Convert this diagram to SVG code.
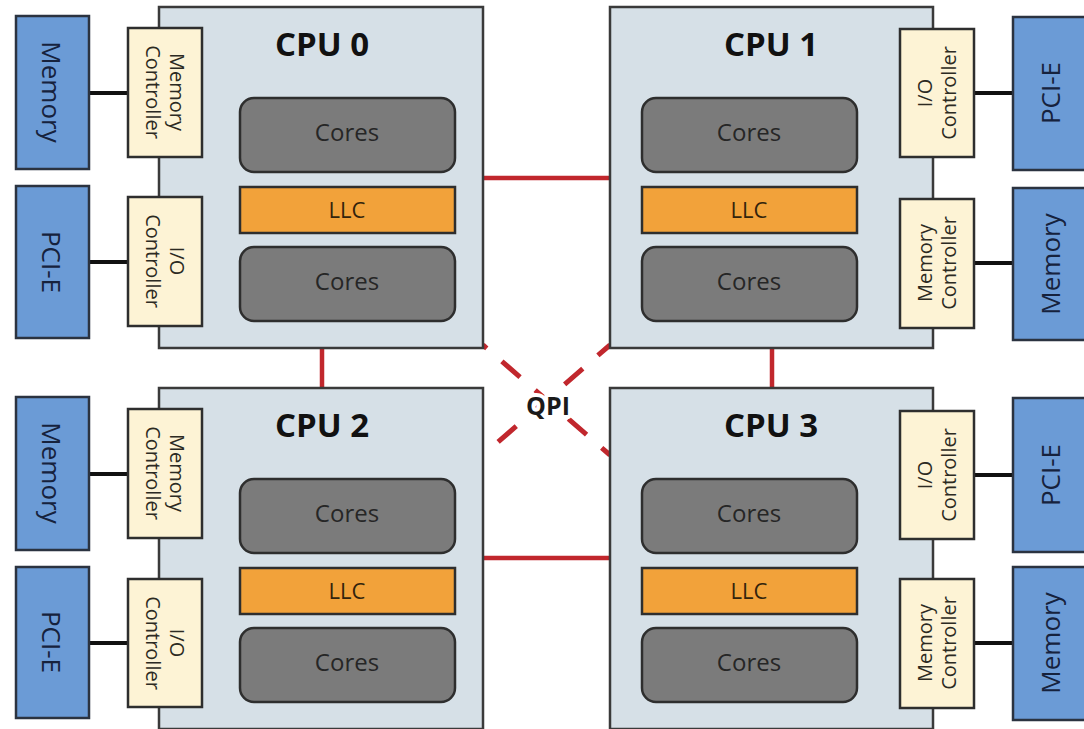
<svg xmlns="http://www.w3.org/2000/svg" width="1084" height="729" viewBox="0 0 1084 729">
<style>
  .cpu{fill:#d6e0e7;stroke:#3a3a3a;stroke-width:2.5}
  .core{fill:#7b7b7b;stroke:#2e2e2e;stroke-width:2.5}
  .llc{fill:#f2a23a;stroke:#2e2e2e;stroke-width:2.5}
  .ctrl{fill:#fdf3d5;stroke:#2e2e2e;stroke-width:2.5}
  .dev{fill:#6b9bd6;stroke:#2b3340;stroke-width:2.5}
  .title{font-family:"Open Sans","DejaVu Sans",sans-serif;font-weight:700;font-size:33px;fill:#111;text-anchor:middle}
  .lbl{font-family:"Open Sans","DejaVu Sans",sans-serif;font-size:24px;fill:#262626;text-anchor:middle}
  .llct{font-family:"Open Sans","DejaVu Sans",sans-serif;font-size:22px;fill:#33240c;text-anchor:middle}
  .ct{font-family:"Open Sans","DejaVu Sans",sans-serif;font-size:20px;fill:#2c2a22;text-anchor:middle}
  .dt{font-family:"Open Sans","DejaVu Sans",sans-serif;font-size:26px;fill:#16223d;text-anchor:middle}
  .qpi{stroke:#c1272d;stroke-width:4.5;fill:none}
  .dash{stroke:#c1272d;stroke-width:5;fill:none;stroke-dasharray:24 20}
  .bus{stroke:#111;stroke-width:4;fill:none}
  .qpit{font-family:"Open Sans","DejaVu Sans",sans-serif;font-weight:700;font-size:25px;fill:#1a1a1a;text-anchor:middle;stroke:#fff;stroke-width:8;paint-order:stroke;stroke-linejoin:round}
</style>

<g id="connectors">
  <line class="dash" x1="483" y1="345" x2="610" y2="455" stroke-dashoffset="19"/>
  <line class="dash" x1="610" y1="345" x2="483" y2="455" stroke-dashoffset="8"/>
  <line class="qpi" x1="483" y1="178" x2="610" y2="178"/>
  <line class="qpi" x1="483" y1="558" x2="610" y2="558"/>
  <line class="qpi" x1="322" y1="348" x2="322" y2="388"/>
  <line class="qpi" x1="772" y1="348" x2="772" y2="388"/>
  <text class="qpit" x="548" y="415">QPI</text>
  <line class="bus" x1="89" y1="93" x2="128" y2="93"/>
  <line class="bus" x1="89" y1="262" x2="128" y2="262"/>
  <line class="bus" x1="89" y1="474" x2="128" y2="474"/>
  <line class="bus" x1="89" y1="643" x2="128" y2="643"/>
  <line class="bus" x1="974" y1="93" x2="1013" y2="93"/>
  <line class="bus" x1="974" y1="263" x2="1013" y2="263"/>
  <line class="bus" x1="974" y1="475" x2="1013" y2="475"/>
  <line class="bus" x1="974" y1="643" x2="1013" y2="643"/>
</g>

<g id="cpu0">
  <rect class="cpu" x="159" y="7" width="324" height="341"/>
  <text class="title" x="322" y="56">CPU 0</text>
  <rect class="core" x="240" y="98" width="215" height="74" rx="14"/>
  <text class="lbl" x="347" y="141">Cores</text>
  <rect class="llc" x="240" y="187" width="215" height="46"/>
  <text class="llct" x="347" y="218">LLC</text>
  <rect class="core" x="240" y="247" width="215" height="74" rx="14"/>
  <text class="lbl" x="347" y="290">Cores</text>
</g>
<g id="cpu1">
  <rect class="cpu" x="610" y="7" width="323" height="341"/>
  <text class="title" x="771" y="56">CPU 1</text>
  <rect class="core" x="642" y="98" width="215" height="74" rx="14"/>
  <text class="lbl" x="749" y="141">Cores</text>
  <rect class="llc" x="642" y="187" width="215" height="46"/>
  <text class="llct" x="749" y="218">LLC</text>
  <rect class="core" x="642" y="247" width="215" height="74" rx="14"/>
  <text class="lbl" x="749" y="290">Cores</text>
</g>
<g id="cpu2">
  <rect class="cpu" x="159" y="388" width="324" height="341"/>
  <text class="title" x="322" y="437">CPU 2</text>
  <rect class="core" x="240" y="479" width="215" height="74" rx="14"/>
  <text class="lbl" x="347" y="522">Cores</text>
  <rect class="llc" x="240" y="568" width="215" height="46"/>
  <text class="llct" x="347" y="599">LLC</text>
  <rect class="core" x="240" y="628" width="215" height="74" rx="14"/>
  <text class="lbl" x="347" y="671">Cores</text>
</g>
<g id="cpu3">
  <rect class="cpu" x="610" y="388" width="323" height="341"/>
  <text class="title" x="771" y="437">CPU 3</text>
  <rect class="core" x="642" y="479" width="215" height="74" rx="14"/>
  <text class="lbl" x="749" y="522">Cores</text>
  <rect class="llc" x="642" y="568" width="215" height="46"/>
  <text class="llct" x="749" y="599">LLC</text>
  <rect class="core" x="642" y="628" width="215" height="74" rx="14"/>
  <text class="lbl" x="749" y="671">Cores</text>
</g>

<g id="memctrl0">
  <rect class="ctrl" x="128" y="28" width="74" height="129"/>
  <text class="ct" transform="translate(165,92) rotate(90)"><tspan x="0" y="-5">Memory</tspan><tspan x="0" y="19">Controller</tspan></text>
</g>
<g id="ioctrl0">
  <rect class="ctrl" x="128" y="197" width="74" height="129"/>
  <text class="ct" transform="translate(165,261) rotate(90)"><tspan x="0" y="-5">I/O</tspan><tspan x="0" y="19">Controller</tspan></text>
</g>
<g id="memctrl2">
  <rect class="ctrl" x="128" y="409" width="74" height="129"/>
  <text class="ct" transform="translate(165,473) rotate(90)"><tspan x="0" y="-5">Memory</tspan><tspan x="0" y="19">Controller</tspan></text>
</g>
<g id="ioctrl2">
  <rect class="ctrl" x="128" y="579" width="74" height="128"/>
  <text class="ct" transform="translate(165,643) rotate(90)"><tspan x="0" y="-5">I/O</tspan><tspan x="0" y="19">Controller</tspan></text>
</g>
<g id="ioctrl1">
  <rect class="ctrl" x="900" y="29" width="74" height="128"/>
  <text class="ct" transform="translate(937,93) rotate(-90)"><tspan x="0" y="-5">I/O</tspan><tspan x="0" y="19">Controller</tspan></text>
</g>
<g id="memctrl1">
  <rect class="ctrl" x="900" y="199" width="74" height="129"/>
  <text class="ct" transform="translate(937,263) rotate(-90)"><tspan x="0" y="-5">Memory</tspan><tspan x="0" y="19">Controller</tspan></text>
</g>
<g id="ioctrl3">
  <rect class="ctrl" x="900" y="411" width="74" height="128"/>
  <text class="ct" transform="translate(937,475) rotate(-90)"><tspan x="0" y="-5">I/O</tspan><tspan x="0" y="19">Controller</tspan></text>
</g>
<g id="memctrl3">
  <rect class="ctrl" x="900" y="579" width="74" height="129"/>
  <text class="ct" transform="translate(937,643) rotate(-90)"><tspan x="0" y="-5">Memory</tspan><tspan x="0" y="19">Controller</tspan></text>
</g>

<g id="memory0">
  <rect class="dev" x="16" y="16" width="73" height="153"/>
  <text class="dt" transform="translate(52,92) rotate(90)" y="10">Memory</text>
</g>
<g id="pcie0">
  <rect class="dev" x="16" y="186" width="73" height="152"/>
  <text class="dt" transform="translate(52,262) rotate(90)" y="10">PCI-E</text>
</g>
<g id="memory2">
  <rect class="dev" x="16" y="397" width="73" height="153"/>
  <text class="dt" transform="translate(52,473) rotate(90)" y="10">Memory</text>
</g>
<g id="pcie2">
  <rect class="dev" x="16" y="567" width="73" height="151"/>
  <text class="dt" transform="translate(52,642) rotate(90)" y="10">PCI-E</text>
</g>
<g id="pcie1">
  <rect class="dev" x="1013" y="17" width="73" height="153"/>
  <text class="dt" transform="translate(1050,93) rotate(-90)" y="10">PCI-E</text>
</g>
<g id="memory1">
  <rect class="dev" x="1013" y="188" width="73" height="152"/>
  <text class="dt" transform="translate(1050,264) rotate(-90)" y="10">Memory</text>
</g>
<g id="pcie3">
  <rect class="dev" x="1013" y="398" width="73" height="154"/>
  <text class="dt" transform="translate(1050,475) rotate(-90)" y="10">PCI-E</text>
</g>
<g id="memory3">
  <rect class="dev" x="1013" y="567" width="73" height="153"/>
  <text class="dt" transform="translate(1050,643) rotate(-90)" y="10">Memory</text>
</g>
</svg>
